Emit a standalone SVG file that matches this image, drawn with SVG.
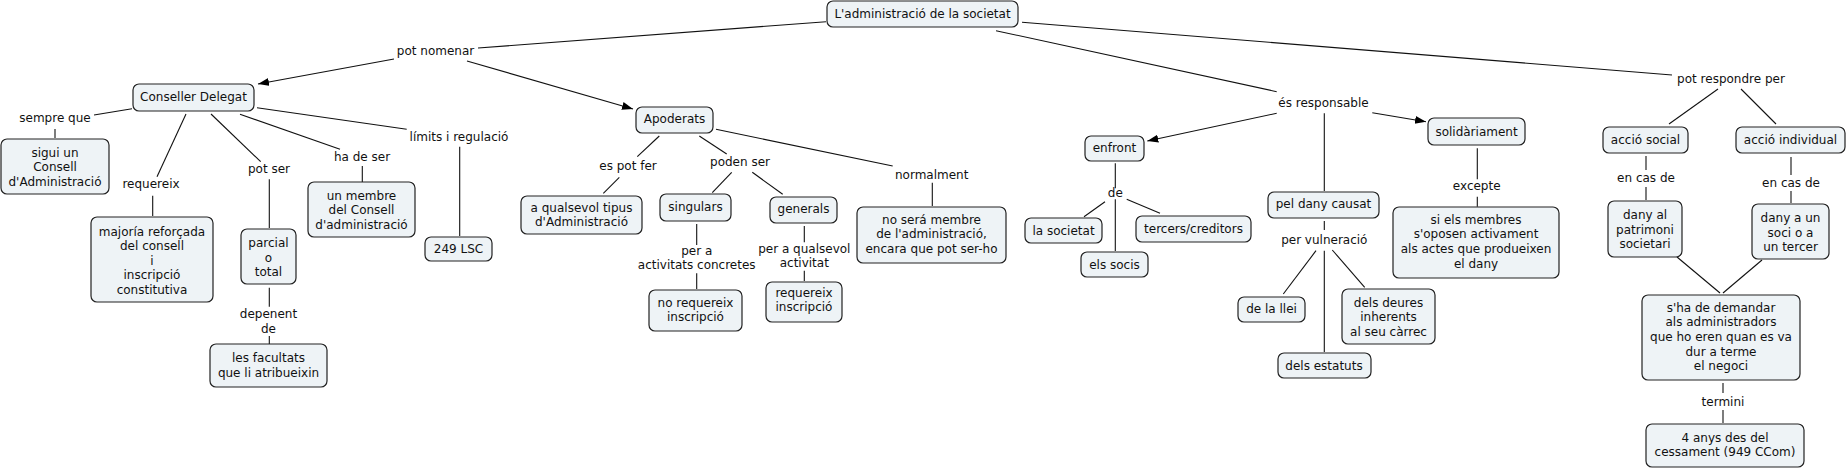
<svg xmlns="http://www.w3.org/2000/svg" width="1847" height="469" viewBox="0 0 1847 469">
<defs>
<marker id="arr" markerUnits="userSpaceOnUse" markerWidth="12" markerHeight="9" refX="11" refY="4" orient="auto">
<path d="M0,0 L11,4 L0,8 z" fill="#000"/>
</marker>
<style>
rect{fill:#eef3f6;stroke:#222;stroke-width:1.2}
text{font-family:"DejaVu Sans",Verdana,sans-serif;font-size:12px;fill:#111;text-anchor:middle}
#connectors line{stroke:#111;stroke-width:1.1}
.a{marker-end:url(#arr)}
</style>
</defs>
<rect width="1847" height="469" style="fill:#fff;stroke:none"/>
<g id="connectors">
<line x1="826" y1="21.7" x2="478" y2="48"/>
<line class="a" x1="394" y1="59" x2="258" y2="84"/>
<line class="a" x1="467" y1="61" x2="633" y2="109"/>
<line x1="132" y1="108.7" x2="94" y2="115"/>
<line x1="55" y1="129" x2="55" y2="138"/>
<line x1="186" y1="114" x2="157" y2="176.7"/>
<line x1="152.7" y1="195.7" x2="152.7" y2="216"/>
<line x1="211" y1="114" x2="260.7" y2="161.7"/>
<line x1="269.3" y1="179.3" x2="269.3" y2="228"/>
<line x1="269.3" y1="287.7" x2="269.3" y2="306.7"/>
<line x1="269.3" y1="336" x2="269.3" y2="344"/>
<line x1="240" y1="114.3" x2="340" y2="149.3"/>
<line x1="362.3" y1="166" x2="362.3" y2="182"/>
<line x1="257" y1="107.7" x2="406.7" y2="129.3"/>
<line x1="459.7" y1="146.7" x2="459.7" y2="236"/>
<line x1="659.3" y1="136" x2="637.3" y2="156.7"/>
<line x1="619.3" y1="177.3" x2="603.3" y2="193.3"/>
<line x1="699.3" y1="136" x2="726.7" y2="154"/>
<line x1="731.7" y1="172.3" x2="712.3" y2="192.7"/>
<line x1="752.3" y1="172.3" x2="782.7" y2="194.3"/>
<line x1="696.7" y1="224" x2="696.7" y2="245"/>
<line x1="696.7" y1="273.3" x2="696.7" y2="289"/>
<line x1="804.3" y1="226" x2="804.3" y2="242.3"/>
<line x1="804.3" y1="270.7" x2="804.3" y2="281"/>
<line x1="716" y1="129.3" x2="892.7" y2="166"/>
<line x1="932.3" y1="182.7" x2="932.3" y2="206"/>
<line x1="996" y1="30.7" x2="1276.7" y2="91.7"/>
<line class="a" x1="1276.7" y1="113.3" x2="1147.3" y2="141"/>
<line class="a" x1="1372.3" y1="112.7" x2="1426" y2="121.7"/>
<line x1="1324.3" y1="113.3" x2="1324.3" y2="191"/>
<line x1="1115.3" y1="163.3" x2="1115.3" y2="188.3"/>
<line x1="1105" y1="201.7" x2="1084" y2="216.7"/>
<line x1="1115.3" y1="199.3" x2="1115.3" y2="251"/>
<line x1="1126.7" y1="199.3" x2="1160" y2="213.3"/>
<line x1="1324.3" y1="221" x2="1324.3" y2="230"/>
<line x1="1316" y1="250.7" x2="1283.3" y2="294"/>
<line x1="1324.3" y1="250.7" x2="1324.3" y2="352"/>
<line x1="1332.3" y1="250" x2="1364.7" y2="287.3"/>
<line x1="1477.3" y1="148.3" x2="1477.3" y2="179.3"/>
<line x1="1477.3" y1="196.7" x2="1477.3" y2="206.7"/>
<line x1="1022" y1="22.3" x2="1672" y2="75"/>
<line x1="1718" y1="89" x2="1669" y2="124"/>
<line x1="1741" y1="89" x2="1776" y2="124"/>
<line x1="1646" y1="156" x2="1646" y2="170"/>
<line x1="1646" y1="187" x2="1646" y2="200"/>
<line x1="1791" y1="157" x2="1791" y2="175"/>
<line x1="1791" y1="191" x2="1791" y2="203"/>
<line x1="1677" y1="257" x2="1720" y2="293"/>
<line x1="1762" y1="260" x2="1723" y2="293"/>
<line x1="1723" y1="383" x2="1723" y2="393"/>
<line x1="1723" y1="410" x2="1723" y2="423"/>
</g>
<g id="labels">
<text id="l-potnomenar" x="435.5" y="54.7">pot nomenar</text>
<text id="l-semprequ" x="55" y="122.3">sempre que</text>
<text id="l-requereix" x="151" y="188.3">requereix</text>
<text id="l-potser" x="269" y="173.3">pot ser</text>
<text id="l-depenent" x="268.5" y="318"><tspan x="268.5">depenent</tspan><tspan x="268.5" dy="14.6">de</tspan></text>
<text id="l-hadeser" x="362" y="161">ha de ser</text>
<text id="l-limits" x="459" y="140.7">límits i regulació</text>
<text id="l-espotfer" x="628" y="169.7">es pot fer</text>
<text id="l-podenser" x="740" y="166">poden ser</text>
<text id="l-pera" x="696.7" y="254.7"><tspan x="696.7">per a</tspan><tspan x="696.7" dy="14.6">activitats concretes</tspan></text>
<text id="l-peraq" x="804.3" y="253"><tspan x="804.3">per a qualsevol</tspan><tspan x="804.3" dy="14.4">activitat</tspan></text>
<text id="l-normalment" x="931.7" y="179">normalment</text>
<text id="l-esresp" x="1323.5" y="106.7">és responsable</text>
<text id="l-de" x="1115.3" y="196.7">de</text>
<text id="l-pervuln" x="1324.3" y="244">per vulneració</text>
<text id="l-excepte" x="1476.7" y="190">excepte</text>
<text id="l-potresp" x="1731" y="83">pot respondre per</text>
<text id="l-encas1" x="1646" y="182.3">en cas de</text>
<text id="l-encas2" x="1791" y="187">en cas de</text>
<text id="l-termini" x="1723" y="406.3">termini</text>
</g>
<g id="n-title"><rect x="827" y="1" width="191" height="26" rx="6"/><text x="922.5" y="18.3">L'administració de la societat</text></g>
<g id="n-cd"><rect x="133" y="84" width="121" height="27" rx="6"/><text x="193.5" y="100.7">Conseller Delegat</text></g>
<g id="n-apoderats"><rect x="636" y="107" width="77" height="26" rx="6"/><text x="674.5" y="123">Apoderats</text></g>
<g id="n-sigui"><rect x="1" y="139" width="108" height="55" rx="6"/><text y="156.7"><tspan x="55">sigui un</tspan><tspan x="55" dy="14.5">Consell</tspan><tspan x="55" dy="14.5">d'Administració</tspan></text></g>
<g id="n-majoria"><rect x="91" y="217" width="122" height="85" rx="6"/><text y="235.7"><tspan x="152">majoría reforçada</tspan><tspan x="152" dy="14.5">del consell</tspan><tspan x="152" dy="14.5">i</tspan><tspan x="152" dy="14.5">inscripció</tspan><tspan x="152" dy="14.5">constitutiva</tspan></text></g>
<g id="n-parcial"><rect x="241" y="229" width="55" height="55" rx="6"/><text y="247.3"><tspan x="268.5">parcial</tspan><tspan x="268.5" dy="14.5">o</tspan><tspan x="268.5" dy="14.5">total</tspan></text></g>
<g id="n-facultats"><rect x="210" y="344" width="117" height="43" rx="6"/><text y="362.3"><tspan x="268.5">les facultats</tspan><tspan x="268.5" dy="14.5">que li atribueixin</tspan></text></g>
<g id="n-membre"><rect x="308" y="182" width="107" height="55" rx="6"/><text y="199.7"><tspan x="361.5">un membre</tspan><tspan x="361.5" dy="14.7">del Consell</tspan><tspan x="361.5" dy="14.5">d'administració</tspan></text></g>
<g id="n-249"><rect x="425" y="237" width="67" height="24" rx="6"/><text x="458.5" y="252.7">249 LSC</text></g>
<g id="n-qualsevol"><rect x="521" y="196" width="121" height="38" rx="6"/><text y="212"><tspan x="581.5">a qualsevol tipus</tspan><tspan x="581.5" dy="14.4">d'Administració</tspan></text></g>
<g id="n-singulars"><rect x="660" y="194" width="71" height="27" rx="6"/><text x="695.5" y="211">singulars</text></g>
<g id="n-generals"><rect x="770" y="197" width="67" height="26" rx="6"/><text x="803.5" y="213">generals</text></g>
<g id="n-norequereix"><rect x="649" y="290" width="93" height="41" rx="6"/><text y="306.7"><tspan x="695.5">no requereix</tspan><tspan x="695.5" dy="14">inscripció</tspan></text></g>
<g id="n-requereix"><rect x="766" y="282" width="76" height="40" rx="6"/><text y="297.3"><tspan x="804">requereix</tspan><tspan x="804" dy="14">inscripció</tspan></text></g>
<g id="n-nosera"><rect x="857" y="207" width="149" height="56" rx="6"/><text y="224"><tspan x="931.5">no será membre</tspan><tspan x="931.5" dy="14.4">de l'administració,</tspan><tspan x="931.5" dy="14.4">encara que pot ser-ho</tspan></text></g>
<g id="n-enfront"><rect x="1085" y="136" width="59" height="25" rx="6"/><text x="1114.5" y="151.7">enfront</text></g>
<g id="n-lasocietat"><rect x="1025" y="218" width="77" height="25" rx="6"/><text x="1063.5" y="234.7">la societat</text></g>
<g id="n-elssocis"><rect x="1081" y="252" width="67" height="25" rx="6"/><text x="1114.5" y="269">els socis</text></g>
<g id="n-tercers"><rect x="1136" y="216" width="115" height="26" rx="6"/><text x="1193.5" y="232.7">tercers/creditors</text></g>
<g id="n-peldany"><rect x="1268" y="192" width="111" height="26" rx="6"/><text x="1323.5" y="208">pel dany causat</text></g>
<g id="n-llei"><rect x="1238" y="297" width="67" height="25" rx="6"/><text x="1271.5" y="313">de la llei</text></g>
<g id="n-estatuts"><rect x="1278" y="353" width="93" height="25" rx="6"/><text x="1324" y="369.7">dels estatuts</text></g>
<g id="n-deures"><rect x="1342" y="289" width="93" height="55" rx="6"/><text y="306.7"><tspan x="1388.5">dels deures</tspan><tspan x="1388.5" dy="14.6">inherents</tspan><tspan x="1388.5" dy="14.4">al seu càrrec</tspan></text></g>
<g id="n-solidariament"><rect x="1428" y="118" width="97" height="27" rx="6"/><text x="1476.5" y="136.3">solidàriament</text></g>
<g id="n-sielsmembres"><rect x="1393" y="207" width="166" height="71" rx="6"/><text y="223.7"><tspan x="1476">si els membres</tspan><tspan x="1476" dy="14.6">s'oposen activament</tspan><tspan x="1476" dy="14.7">als actes que produeixen</tspan><tspan x="1476" dy="14.7">el dany</tspan></text></g>
<g id="n-acciosocial"><rect x="1603" y="127" width="85" height="26" rx="6"/><text x="1645.5" y="144.3">acció social</text></g>
<g id="n-accioind"><rect x="1736" y="127" width="109" height="26" rx="6"/><text x="1790.5" y="144.3">acció individual</text></g>
<g id="n-danyal"><rect x="1608" y="201" width="74" height="56" rx="6"/><text y="219"><tspan x="1645">dany al</tspan><tspan x="1645" dy="14.7">patrimoni</tspan><tspan x="1645" dy="14.6">societari</tspan></text></g>
<g id="n-danyaun"><rect x="1752" y="204" width="77" height="55" rx="6"/><text y="222.3"><tspan x="1790.5">dany a un</tspan><tspan x="1790.5" dy="14.4">soci o a</tspan><tspan x="1790.5" dy="14.6">un tercer</tspan></text></g>
<g id="n-demandar"><rect x="1642" y="295" width="158" height="85" rx="6"/><text y="311.7"><tspan x="1721">s'ha de demandar</tspan><tspan x="1721" dy="14.6">als administradors</tspan><tspan x="1721" dy="14.7">que ho eren quan es va</tspan><tspan x="1721" dy="14.7">dur a terme</tspan><tspan x="1721" dy="14.6">el negoci</tspan></text></g>
<g id="n-4anys"><rect x="1646" y="424" width="158" height="43" rx="6"/><text y="441.7"><tspan x="1725">4 anys des del</tspan><tspan x="1725" dy="14.6">cessament (949 CCom)</tspan></text></g>
</svg>
